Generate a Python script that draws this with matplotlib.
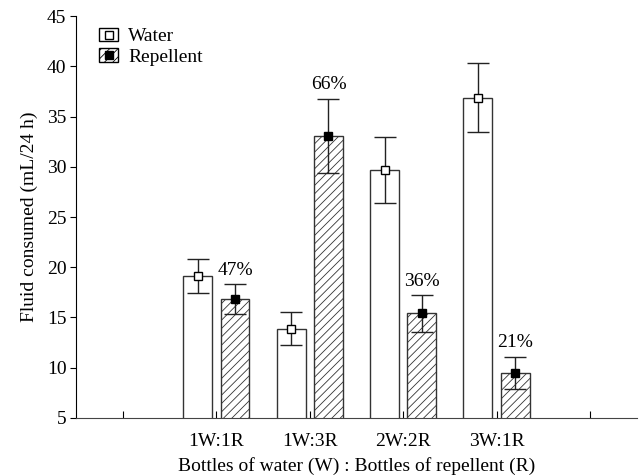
import numpy as np
import matplotlib
matplotlib.use("Agg")
import matplotlib.pyplot as plt
from matplotlib.lines import Line2D
from matplotlib.patches import Patch
from matplotlib.legend_handler import HandlerTuple

plt.rcParams['font.family'] = ['Liberation Serif', 'DejaVu Serif']
plt.rcParams['hatch.linewidth'] = 0.6

# --- data ---
groups = ['1W:1R', '1W:3R', '2W:2R', '3W:1R']
water = [19.1, 13.9, 29.7, 36.9]
water_err = [1.7, 1.6, 3.3, 3.4]
repellent = [16.8, 33.1, 15.4, 9.5]
repellent_err = [1.5, 3.7, 1.8, 1.6]
pct_labels = ['47%', '66%', '36%', '21%']

pos = np.arange(1, len(groups) + 1)
w = 0.31
off = 0.2
edge = '#333333'
fs = 14

fig = plt.figure(figsize=(6.4, 4.76), dpi=100)
ax = fig.add_axes([0.119, 0.122, 0.876, 0.844])

ax.bar(pos - off, water, w, color='white', edgecolor=edge, lw=1.0, zorder=2)
ax.bar(pos + off, repellent, w, color='white', edgecolor=edge, lw=1.0,
       hatch='////', zorder=2)

ax.errorbar(pos - off, water, yerr=water_err, fmt='s', color='black', ecolor='#222222',
            mfc='white', mec='black', ms=6, capsize=8, elinewidth=1.0, capthick=1.0, zorder=4)
ax.errorbar(pos + off, repellent, yerr=repellent_err, fmt='s', color='black', ecolor='#222222',
            mfc='black', mec='black', ms=6, capsize=8, elinewidth=1.0, capthick=1.0, zorder=4)

for x, v, e, t in zip(pos + off, repellent, repellent_err, pct_labels):
    ax.annotate(t, (x, v + e), xytext=(0, 4), textcoords='offset points',
                ha='center', va='bottom', fontsize=fs)

ax.set_xlim(-0.5, 5.5)
ax.set_ylim(5, 45)
ax.set_xticks(np.arange(0, 6))
ax.set_xticklabels([''] + groups + [''])
ax.set_yticks(np.arange(5, 46, 5))
ax.tick_params(axis='x', direction='in', length=5, labelsize=fs, pad=11)
ax.tick_params(axis='y', direction='out', length=4, labelsize=fs, pad=3)
ax.spines['top'].set_visible(False)
ax.spines['right'].set_visible(False)
ax.spines['bottom'].set_color('#444444')

ax.set_ylabel('Fluid consumed (mL/24 h)', fontsize=fs, labelpad=6)
ax.set_xlabel('Bottles of water (W) : Bottles of repellent (R)', fontsize=fs, labelpad=5)

h_w = (Patch(facecolor='white', edgecolor='black'),
       Line2D([], [], marker='s', ls='none', mfc='white', mec='black', ms=6))
h_r = (Patch(facecolor='white', edgecolor='black', hatch='////'),
       Line2D([], [], marker='s', ls='none', mfc='black', mec='black', ms=6))
ax.legend([h_w, h_r], ['Water', 'Repellent'], handler_map={tuple: HandlerTuple(ndivide=1)},
          loc='upper left', bbox_to_anchor=(0.02, 1.0), frameon=False, fontsize=fs,
          handlelength=1.0, handleheight=0.7, handletextpad=0.5, labelspacing=0.15,
          borderaxespad=0.2)

fig.savefig('out.png', dpi=100)
